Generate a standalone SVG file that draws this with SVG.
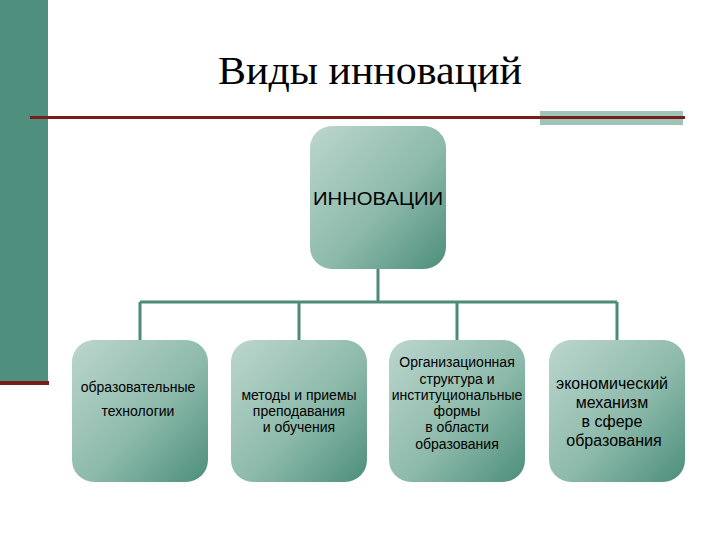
<svg xmlns="http://www.w3.org/2000/svg" width="720" height="540" viewBox="0 0 720 540">
<defs>
<linearGradient id="g" x1="0" y1="0" x2="1" y2="1">
<stop offset="0" stop-color="#bcd6ce"/>
<stop offset="0.55" stop-color="#8dbaab"/>
<stop offset="1" stop-color="#4d8e7b"/>
</linearGradient>
<style>
.box{fill:url(#g);}
.t{font-family:"Liberation Sans",Arial,sans-serif;font-size:14px;fill:#000;text-anchor:middle;}
.big{font-size:16px;}
.top{font-size:18px;}
.c{stroke:#4e8a7a;stroke-width:3;fill:none;}
</style>
</defs>
<rect width="720" height="540" fill="#fff"/>
<rect x="0" y="0" width="48" height="382" fill="#4f8f7d"/>
<rect x="0" y="381" width="49" height="4" fill="#7a1c1c"/>
<rect x="540" y="111" width="143" height="14" fill="#9dc4b7"/>
<rect x="30" y="116" width="655" height="3" fill="#7a1c1c"/>
<text x="370" y="84" font-family="Liberation Serif,'Times New Roman',serif" font-size="41" text-anchor="middle" textLength="304" lengthAdjust="spacingAndGlyphs">Виды инноваций</text>
<g id="connectors">
<path class="c" d="M378 268V302M140 302H617M140 302V341M299 302V341M457 302V341M617 302V341"/>
</g>
<g id="n0">
<rect class="box" x="310" y="126" width="136" height="143" rx="22"/>
<text class="t top" x="378" y="205" textLength="130" lengthAdjust="spacingAndGlyphs">ИННОВАЦИИ</text>
</g>
<g id="n1">
<rect class="box" x="72" y="340" width="136" height="142" rx="22"/>
<text class="t" x="138" y="392">образовательные</text>
<text class="t" x="138" y="416">технологии</text>
</g>
<g id="n2">
<rect class="box" x="231" y="340" width="136" height="142" rx="22"/>
<text class="t" x="299" y="400">методы и приемы</text>
<text class="t" x="299" y="416">преподавания</text>
<text class="t" x="299" y="432">и обучения</text>
</g>
<g id="n3">
<rect class="box" x="389" y="340" width="136" height="142" rx="22"/>
<text class="t" x="457" y="367">Организационная</text>
<text class="t" x="457" y="384">структура и</text>
<text class="t" x="457" y="400">институциональные</text>
<text class="t" x="457" y="416">формы</text>
<text class="t" x="457" y="432">в области</text>
<text class="t" x="457" y="449">образования</text>
</g>
<g id="n4">
<rect class="box" x="549" y="340" width="136" height="142" rx="22"/>
<text class="t big" x="612" y="389">экономический</text>
<text class="t big" x="612" y="408">механизм</text>
<text class="t big" x="612" y="427">в сфере</text>
<text class="t big" x="614" y="446">образования</text>
</g>
</svg>
